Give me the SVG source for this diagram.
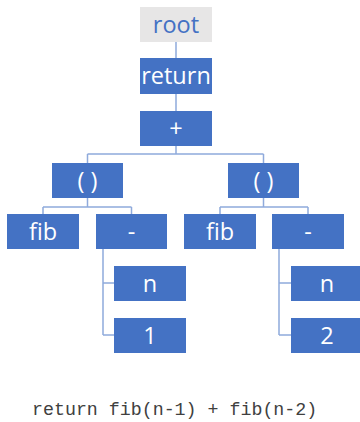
<svg xmlns="http://www.w3.org/2000/svg" width="360" height="422" viewBox="0 0 360 422">
<style>
.box{fill:#4472C4}
.root{fill:#E7E6E6}
.t{font-family:"Open Sans","Liberation Sans",sans-serif;font-size:23.5px;fill:#FFFFFF;text-anchor:middle}
.rt{fill:#4472C4}
.c{fill:none;stroke:#8FAADC;stroke-width:1.5}
.code{font-family:"Liberation Mono",monospace;font-size:18.3px;fill:#404040}
</style>
<rect width="360" height="422" fill="#FFFFFF"/>
<g id="connectors">
<path class="c" d="M176 42V58M176 94V111M176 146V154M87.5 154H263.5M87.5 154V163M263.5 154V163"/>
<path class="c" d="M87.5 198V207M43 207H131.5M43 207V214M131.5 207V214"/>
<path class="c" d="M263.5 198V207M220 207H308M220 207V214M308 207V214"/>
<path class="c" d="M103 249V335M103 283H114M103 335H114"/>
<path class="c" d="M279 249V335M279 283H291M279 335H291"/>
</g>
<g id="root"><rect class="root" x="140" y="7" width="72" height="35"/><text class="t rt" x="176" y="32.5">root</text></g>
<g id="return"><rect class="box" x="140" y="58" width="72" height="36"/><text class="t" x="176" y="84">return</text></g>
<g id="plus"><rect class="box" x="140" y="111" width="72" height="35"/><text class="t" x="176" y="136.5">+</text></g>
<g id="call1"><rect class="box" x="52" y="163" width="71" height="35"/><text class="t" x="87.5" y="188.5">( )</text></g>
<g id="call2"><rect class="box" x="228" y="163" width="71" height="35"/><text class="t" x="263.5" y="188.5">( )</text></g>
<g id="fib1"><rect class="box" x="7" y="214" width="72" height="35"/><text class="t" x="43" y="239.5">fib</text></g>
<g id="minus1"><rect class="box" x="96" y="214" width="71" height="35"/><text class="t" x="131.5" y="239.5">-</text></g>
<g id="fib2"><rect class="box" x="184" y="214" width="72" height="35"/><text class="t" x="220" y="239.5">fib</text></g>
<g id="minus2"><rect class="box" x="272" y="214" width="72" height="35"/><text class="t" x="308" y="239.5">-</text></g>
<g id="n1"><rect class="box" x="114" y="266" width="72" height="35"/><text class="t" x="150" y="291.5">n</text></g>
<g id="one"><rect class="box" x="114" y="318" width="72" height="35"/><text class="t" x="150" y="343.5">1</text></g>
<g id="n2"><rect class="box" x="291" y="266" width="72" height="35"/><text class="t" x="327" y="291.5">n</text></g>
<g id="two"><rect class="box" x="291" y="318" width="72" height="35"/><text class="t" x="327" y="343.5">2</text></g>
<text class="code" x="32" y="415">return fib(n-1) + fib(n-2)</text>
</svg>
